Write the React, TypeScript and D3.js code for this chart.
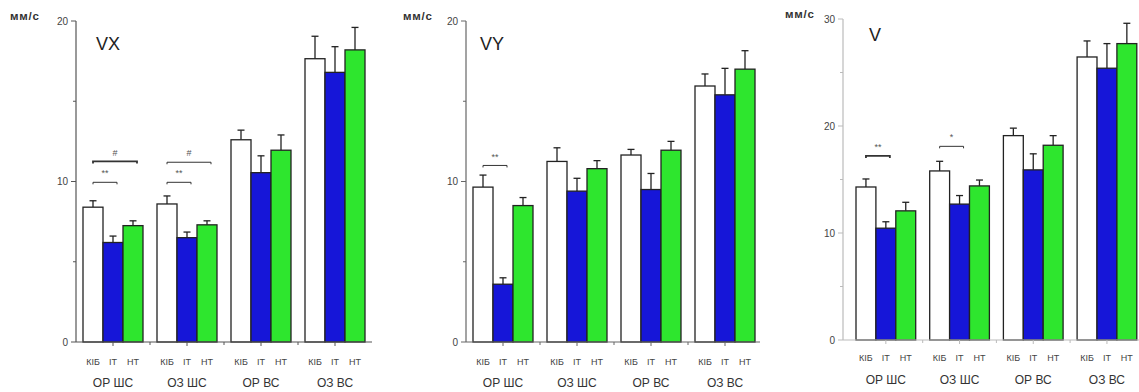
import React, { useEffect } from "react";
import * as d3 from "d3";

const groups = ["ОР ШС", "ОЗ ШС", "ОР ВС", "ОЗ ВС"];
const series = ["КІБ", "ІТ", "НТ"];
const colors = ["#ffffff", "#1616d8", "#2ee62e"];

// mean values per group (rows) and series (cols)
const vxMean = [
  [8.4, 6.2, 7.25],
  [8.6, 6.5, 7.3],
  [12.6, 10.55, 11.95],
  [17.65, 16.8, 18.2],
];
const vxErr = [
  [0.4, 0.4, 0.3],
  [0.5, 0.35, 0.25],
  [0.6, 1.05, 0.95],
  [1.4, 1.6, 1.4],
];
const vyMean = [
  [9.65, 3.6, 8.5],
  [11.25, 9.4, 10.8],
  [11.65, 9.5, 11.95],
  [15.95, 15.4, 17.0],
];
const vyErr = [
  [0.75, 0.4, 0.5],
  [0.85, 0.8, 0.5],
  [0.35, 1.0, 0.55],
  [0.75, 1.65, 1.15],
];
const vMean = [
  [14.3, 10.45, 12.07],
  [15.8, 12.7, 14.4],
  [19.1, 15.9, 18.2],
  [26.45, 25.4, 27.7],
];
const vErr = [
  [0.75, 0.6, 0.8],
  [0.9, 0.8, 0.55],
  [0.7, 1.5, 0.9],
  [1.5, 2.3, 1.9],
];

const vxTicks = [0, 10, 20];
const vyTicks = [0, 10, 20];
const vTicks = [0, 10, 20, 30];

// significance brackets: group, from series, to series, level, label
const vxSig = [
  { g: 0, a: 0, b: 2, y: 11.25, label: "#", bold: true },
  { g: 0, a: 0, b: 1, y: 9.95, label: "**", bold: false },
  { g: 1, a: 0, b: 2, y: 11.2, label: "#", bold: false },
  { g: 1, a: 0, b: 1, y: 9.95, label: "**", bold: false },
];
const vySig = [{ g: 0, a: 0, b: 1, y: 11.0, label: "**", bold: false }];
const vSig = [
  { g: 0, a: 0, b: 1, y: 17.2, label: "**", bold: true },
  { g: 1, a: 0, b: 1, y: 18.1, label: "*", bold: false },
];

const font = "'Liberation Sans', Arial, sans-serif";

type Sig = { g: number; a: number; b: number; y: number; label: string; bold: boolean };

interface PanelProps {
  title: string;
  mean: number[][];
  err: number[][];
  ticks: number[];
  sig: Sig[];
  axisX: number;
  yTop: number;
  yBottom: number;
  groupStart: number;
  step: number;
  axisEnd: number;
  axisColor: string;
  unitX: number;
  titleX: number;
  titleY: number;
  catY: number;
  grpY: number;
}

const Panel = (p: PanelProps) => {
  const max = p.ticks[p.ticks.length - 1];
  const y = d3.scaleLinear().domain([0, max]).range([p.yBottom, p.yTop]);
  const gx = d3
    .scaleBand<string>()
    .domain(groups)
    .range([p.groupStart, p.groupStart + p.step * groups.length]);
  const sx = d3.scaleBand<string>().domain(series).range([7, p.step - 7]);
  const bw = sx.bandwidth();
  const minor = d3.range(5, max, 10);
  const barX = (g: number, s: number) => (gx(groups[g]) as number) + (sx(series[s]) as number);

  return (
    <g>
      {/* y axis */}
      <line x1={p.axisX} x2={p.axisX} y1={p.yTop} y2={p.yBottom} stroke={p.axisColor} strokeWidth={1.2} />
      {p.ticks.map((t) => (
        <g key={t}>
          <line x1={p.axisX - 5} x2={p.axisX} y1={y(t)} y2={y(t)} stroke={p.axisColor} />
          <text x={p.axisX - 8} y={y(t)} dy="0.35em" textAnchor="end" fontSize={10} fill="#444" fontFamily={font}>
            {t}
          </text>
        </g>
      ))}
      {minor.map((t) => (
        <line key={t} x1={p.axisX - 3} x2={p.axisX} y1={y(t)} y2={y(t)} stroke={p.axisColor} />
      ))}
      <text
        x={p.unitX}
        y={p.yTop - 1}
        fontSize={11.5}
        fontWeight={600}
        letterSpacing={0.8}
        fill="#333"
        fontFamily={font}
      >
        мм/с
      </text>
      <text x={p.titleX} y={p.titleY} fontSize={18} fill="#222" fontFamily={font}>
        {p.title}
      </text>

      {/* bars */}
      {p.mean.map((row, g) =>
        row.map((v, s) => {
          const x = barX(g, s);
          const top = y(v + p.err[g][s]);
          const cx = x + bw / 2;
          return (
            <g key={`${g}-${s}`}>
              <line x1={cx} x2={cx} y1={y(v)} y2={top} stroke="#222" strokeWidth={1.3} />
              <line x1={cx - 3.5} x2={cx + 3.5} y1={top} y2={top} stroke="#222" strokeWidth={1.3} />
              <rect
                x={x}
                y={y(v)}
                width={bw}
                height={y(0) - y(v)}
                fill={colors[s]}
                stroke="#222"
                strokeWidth={1.3}
              />
            </g>
          );
        })
      )}

      {/* x axis */}
      <line x1={p.axisX} x2={p.axisEnd} y1={p.yBottom} y2={p.yBottom} stroke={p.axisColor} strokeWidth={1.2} />
      {groups.slice(1).map((g) => (
        <line key={g} x1={gx(g)} x2={gx(g)} y1={p.yBottom} y2={p.yBottom + 3} stroke={p.axisColor} />
      ))}
      {groups.map((g, gi) => {
        const mid = barX(gi, 1) + bw / 2;
        return (
          <g key={g}>
            <line x1={mid} x2={mid} y1={p.yBottom} y2={p.yBottom + 4} stroke={p.axisColor} />
            {series.map((s, si) => (
              <text
                key={s}
                x={barX(gi, si) + bw / 2}
                y={p.catY}
                textAnchor="middle"
                dy="0.35em"
                fontSize={9}
                fill="#444"
                fontFamily={font}
              >
                {s}
              </text>
            ))}
            <text x={mid} y={p.grpY} textAnchor="middle" dy="0.35em" fontSize={12} fill="#333" fontFamily={font}>
              {g}
            </text>
          </g>
        );
      })}

      {/* significance */}
      {p.sig.map((d, i) => {
        const x1 = barX(d.g, d.a) + bw / 2;
        const x2 = barX(d.g, d.b) + bw / 2 + 4;
        const yy = y(d.y);
        return (
          <g key={i}>
            <path
              d={`M${x1},${yy + 2}V${yy}H${x2}V${yy + 2}`}
              fill="none"
              stroke="#333"
              strokeWidth={d.bold ? 1.8 : 1}
            />
            <text x={(x1 + x2) / 2} y={yy - 9} textAnchor="middle" dy="0.35em" fontSize={9} fill="#555" fontFamily={font}>
              {d.label}
            </text>
          </g>
        );
      })}
    </g>
  );
};

export default function App() {
  useEffect(() => {
    document.body.style.margin = "0";
  }, []);
  return (
    <svg width={1139} height={392} style={{ display: "block", background: "#fff" }}>
      <Panel
        title="VX"
        mean={vxMean}
        err={vxErr}
        ticks={vxTicks}
        sig={vxSig}
        axisX={76}
        yTop={21}
        yBottom={342}
        groupStart={76}
        step={74}
        axisEnd={372}
        axisColor="#555"
        unitX={10}
        titleX={96}
        titleY={50}
        catY={362}
        grpY={383}
      />
      <Panel
        title="VY"
        mean={vyMean}
        err={vyErr}
        ticks={vyTicks}
        sig={vySig}
        axisX={466}
        yTop={21}
        yBottom={342}
        groupStart={466}
        step={74}
        axisEnd={760}
        axisColor="#666"
        unitX={403}
        titleX={480}
        titleY={50}
        catY={362}
        grpY={383}
      />
      <Panel
        title="V"
        mean={vMean}
        err={vErr}
        ticks={vTicks}
        sig={vSig}
        axisX={843}
        yTop={19}
        yBottom={340}
        groupStart={849}
        step={73.7}
        axisEnd={1139}
        axisColor="#bbb"
        unitX={785}
        titleX={869}
        titleY={41}
        catY={358}
        grpY={380}
      />
    </svg>
  );
}
